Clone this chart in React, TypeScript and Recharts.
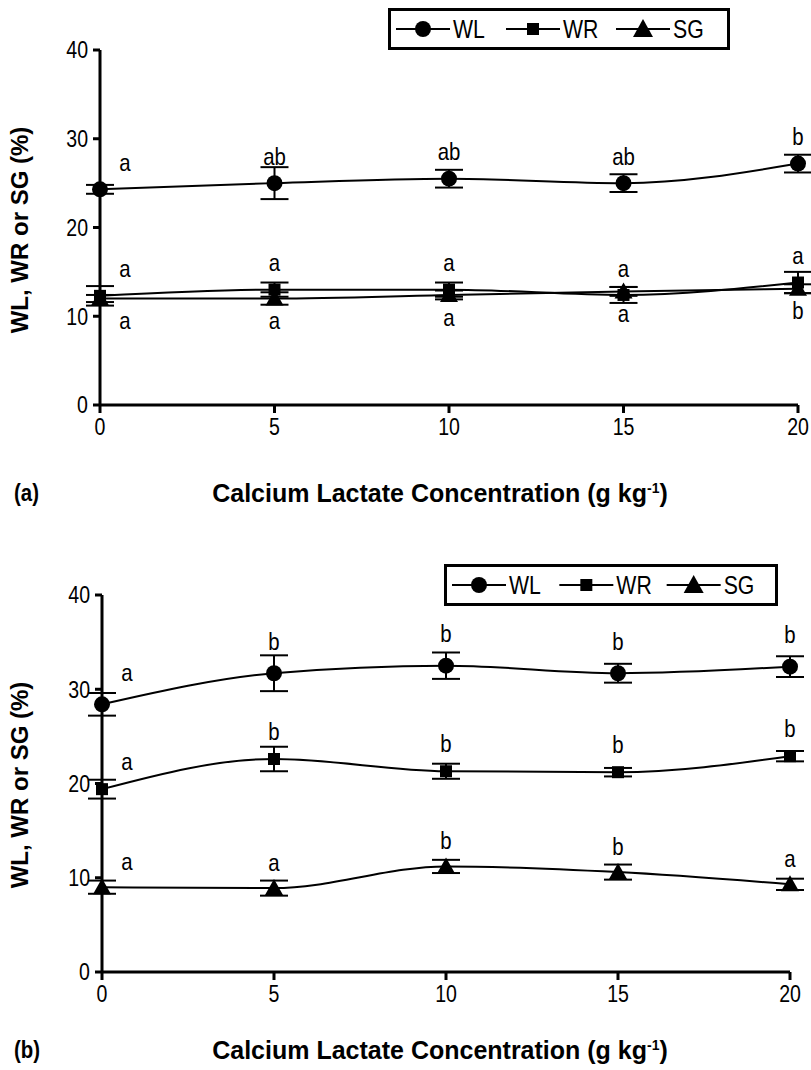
import React from 'react';
import { LineChart, Line, XAxis, YAxis, ErrorBar, LabelList } from 'recharts';

// calcium lactate concentration (g/kg)
const concentration = [0, 5, 10, 15, 20];
const yTicks = [0, 10, 20, 30, 40];

// panel (a)
const wlA = [24.3, 25.0, 25.5, 25.0, 27.2];
const wlErrA = [0.5, 1.8, 1.0, 1.0, 1.0];
const wlSigA = ['a', 'ab', 'ab', 'ab', 'b'];
const wrA = [12.3, 13.0, 13.0, 12.4, 13.8];
const wrErrA = [1.1, 0.8, 0.8, 0.9, 1.2];
const wrSigA = ['a', 'a', 'a', 'a', 'a'];
const sgA = [12.0, 12.0, 12.4, 12.8, 13.1];
const sgErrA = [0.4, 0.7, 0.5, 0.5, 0.5];
const sgSigA = ['a', 'a', 'a', 'a', 'b'];

// panel (b)
const wlB = [28.4, 31.7, 32.5, 31.7, 32.4];
const wlErrB = [1.2, 1.9, 1.4, 1.0, 1.1];
const wlSigB = ['a', 'b', 'b', 'b', 'b'];
const wrB = [19.4, 22.6, 21.3, 21.2, 22.9];
const wrErrB = [1.0, 1.3, 0.8, 0.45, 0.55];
const wrSigB = ['a', 'b', 'b', 'b', 'b'];
const sgB = [9.0, 8.9, 11.2, 10.6, 9.3];
const sgErrB = [0.7, 0.8, 0.7, 0.8, 0.6];
const sgSigB = ['a', 'a', 'b', 'b', 'a'];

const FONT = "'Liberation Sans', Arial, sans-serif";
const NARROW = 0.85; // no narrow face installed, squeeze horizontally instead

const buildRows = (
  wl: number[], wlErr: number[], wlSig: string[],
  wr: number[], wrErr: number[], wrSig: string[],
  sg: number[], sgErr: number[], sgSig: string[],
) =>
  concentration.map((c, i) => ({
    c,
    wl: wl[i], wlErr: wlErr[i], wlSig: wlSig[i],
    wr: wr[i], wrErr: wrErr[i], wrSig: wrSig[i],
    sg: sg[i], sgErr: sgErr[i], sgSig: sgSig[i],
  }));

const rowsA = buildRows(wlA, wlErrA, wlSigA, wrA, wrErrA, wrSigA, sgA, sgErrA, sgSigA);
const rowsB = buildRows(wlB, wlErrB, wlSigB, wrB, wrErrB, wrSigB, sgB, sgErrB, sgSigB);

const circleDot = (p: any) => (
  <circle key={`c-${p.index}`} cx={p.cx} cy={p.cy} r={8} fill="#000" />
);
const squareDot = (p: any) => (
  <rect key={`s-${p.index}`} x={p.cx - 6} y={p.cy - 6} width={12} height={12} fill="#000" />
);
const triangleDot = (p: any) => (
  <path
    key={`t-${p.index}`}
    d={`M${p.cx},${p.cy - 9} L${p.cx - 9},${p.cy + 7} L${p.cx + 9},${p.cy + 7} Z`}
    fill="#000"
  />
);

const NarrowText = ({ x, y, anchor, dy, size, children }: any) => (
  <g transform={`translate(${x},${y}) scale(${NARROW},1)`}>
    <text x={0} y={0} dy={dy} textAnchor={anchor} fontFamily={FONT} fontSize={size} fill="#000">
      {children}
    </text>
  </g>
);

const XTick = (p: any) => (
  <NarrowText x={p.x} y={p.y} anchor="middle" dy="0.71em" size={23}>
    {p.payload.value}
  </NarrowText>
);
const YTick = (p: any) => (
  <NarrowText x={p.x} y={p.y} anchor="end" dy="0.36em" size={23}>
    {p.payload.value}
  </NarrowText>
);

// significance letters, shifted right at x=0 because the axis sits there
const sigLabel = (dy: number) => (p: any) => (
  <NarrowText
    key={`l-${p.index}-${dy}`}
    x={p.index === 0 ? p.x + 25 : p.x}
    y={p.y + dy}
    anchor="middle"
    dy="0.36em"
    size={24}
  >
    {p.value}
  </NarrowText>
);

const LegendBox = ({ left, top, width }: { left: number; top: number; width: number }) => {
  const step = (width - 12) / 3;
  const item = (i: number, marker: (cx: number) => React.ReactNode, name: string) => {
    const x0 = 8 + i * step;
    return (
      <g key={name}>
        <line x1={x0} y1={21} x2={x0 + 54} y2={21} stroke="#000" strokeWidth={2} />
        {marker(x0 + 27)}
        <NarrowText x={x0 + 57} y={21} anchor="start" dy="0.36em" size={25}>
          {name}
        </NarrowText>
      </g>
    );
  };
  return (
    <svg
      width={width}
      height={42}
      style={{ position: 'absolute', left, top, background: '#fff' }}
    >
      <rect x={1.5} y={1.5} width={width - 3} height={39} fill="#fff" stroke="#000" strokeWidth={3} />
      {item(0, (cx) => <circle cx={cx} cy={21} r={8} fill="#000" />, 'WL')}
      {item(1, (cx) => <rect x={cx - 6} y={15} width={12} height={12} fill="#000" />, 'WR')}
      {item(2, (cx) => <path d={`M${cx},11 L${cx - 10},29 L${cx + 10},29 Z`} fill="#000" />, 'SG')}
    </svg>
  );
};

type PanelProps = {
  rows: any[];
  top: number;
  height: number;
  margin: { top: number; right: number; bottom: number; left: number };
  wlDy: number;
  wrDy: number;
  sgDy: number;
};

function Panel({ rows, top, height, margin, wlDy, wrDy, sgDy }: PanelProps) {
  return (
    <div style={{ position: 'absolute', left: 0, top }}>
      <LineChart width={811} height={height} data={rows} margin={margin}>
        <XAxis
          dataKey="c"
          type="number"
          domain={[0, 20]}
          ticks={concentration}
          axisLine={{ stroke: '#000', strokeWidth: 3 }}
          tickLine={{ stroke: '#000', strokeWidth: 3 }}
          tickSize={8}
          tickMargin={6}
          tick={<XTick />}
          height={30}
        />
        <YAxis
          type="number"
          domain={[0, 40]}
          ticks={yTicks}
          axisLine={{ stroke: '#000', strokeWidth: 3 }}
          tickLine={{ stroke: '#000', strokeWidth: 3 }}
          tickSize={7}
          tickMargin={5}
          tick={<YTick />}
          width={60}
        />
        <Line
          type="monotone"
          dataKey="wl"
          stroke="#000"
          strokeWidth={2}
          dot={circleDot}
          activeDot={false}
          isAnimationActive={false}
        >
          <ErrorBar dataKey="wlErr" width={14} stroke="#000" strokeWidth={2} direction="y" isAnimationActive={false} />
          <LabelList dataKey="wlSig" content={sigLabel(wlDy)} />
        </Line>
        <Line
          type="monotone"
          dataKey="wr"
          stroke="#000"
          strokeWidth={2}
          dot={squareDot}
          activeDot={false}
          isAnimationActive={false}
        >
          <ErrorBar dataKey="wrErr" width={14} stroke="#000" strokeWidth={2} direction="y" isAnimationActive={false} />
          <LabelList dataKey="wrSig" content={sigLabel(wrDy)} />
        </Line>
        <Line
          type="monotone"
          dataKey="sg"
          stroke="#000"
          strokeWidth={2}
          dot={triangleDot}
          activeDot={false}
          isAnimationActive={false}
        >
          <ErrorBar dataKey="sgErr" width={14} stroke="#000" strokeWidth={2} direction="y" isAnimationActive={false} />
          <LabelList dataKey="sgSig" content={sigLabel(sgDy)} />
        </Line>
      </LineChart>
    </div>
  );
}

const yTitle = (centerY: number) => (
  <div
    style={{
      position: 'absolute',
      left: 20,
      top: centerY,
      transform: 'translate(-50%, -50%) rotate(-90deg)',
      whiteSpace: 'nowrap',
      fontFamily: FONT,
      fontWeight: 'bold',
      fontSize: 24,
    }}
  >
    WL, WR or SG (%)
  </div>
);

const xTitle = (tag: string, centerY: number) => (
  <>
    <div
      style={{
        position: 'absolute',
        left: 14,
        top: centerY,
        transform: `translateY(-50%) scaleX(${NARROW})`,
        transformOrigin: 'left center',
        fontFamily: FONT,
        fontWeight: 'bold',
        fontSize: 24,
        lineHeight: '28px',
      }}
    >
      {tag}
    </div>
    <div
      style={{
        position: 'absolute',
        left: 440,
        top: centerY,
        transform: 'translate(-50%, -50%)',
        whiteSpace: 'nowrap',
        fontFamily: FONT,
        fontWeight: 'bold',
        fontSize: 25,
        lineHeight: '28px',
      }}
    >
      Calcium Lactate Concentration (g kg<sup style={{ fontSize: 14, lineHeight: 0 }}>-1</sup>)
    </div>
  </>
);

export default function App() {
  return (
    <div
      style={{
        position: 'absolute',
        left: 0,
        top: 0,
        width: 811,
        height: 1070,
        background: '#fff',
        overflow: 'hidden',
      }}
    >
      <Panel
        rows={rowsA}
        top={0}
        height={540}
        margin={{ top: 50, right: 13, bottom: 105, left: 40 }}
        wlDy={-27}
        wrDy={-27}
        sgDy={22}
      />
      <Panel
        rows={rowsB}
        top={540}
        height={530}
        margin={{ top: 55, right: 21, bottom: 68, left: 42 }}
        wlDy={-32}
        wrDy={-28}
        sgDy={-26}
      />
      <LegendBox left={388} top={8} width={342} />
      <LegendBox left={444} top={564} width={334} />
      {yTitle(230)}
      {yTitle(785)}
      {xTitle('(a)', 493)}
      {xTitle('(b)', 1050)}
    </div>
  );
}
